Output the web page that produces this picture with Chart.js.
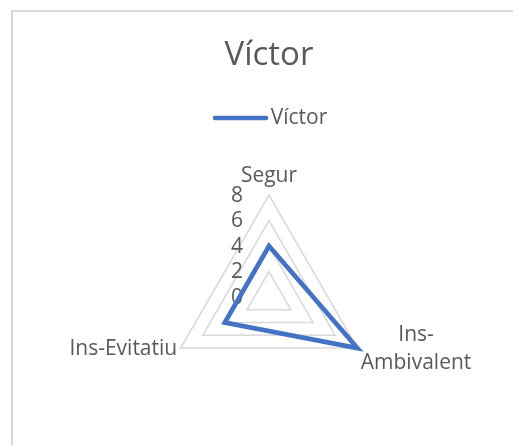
<!DOCTYPE html>
<html>
<head>
<meta charset="utf-8">
<script src="https://cdn.jsdelivr.net/npm/chart.js@4"></script>
<style>
  html, body { margin: 0; padding: 0; background: #fff; overflow: hidden; width: 513px; height: 445px; }
  #frame { position: fixed; left: 11px; top: 10px; width: 540px; height: 470px;
           box-shadow: inset 2px 2px 0 #d9d9d9; }
  #wrap { position: fixed; left: 12px; top: 11px; }
</style>
</head>
<body>
<div id="frame"></div>
<div id="wrap"><canvas id="radarChart" width="501" height="460"></canvas></div>
<script>
// chart data
const seriesName = 'Víctor';
const categories = ['Segur', ['Ins-', 'Ambivalent'], 'Ins-Evitatiu'];
const values = [4, 8, 4];
const tickValues = [0, 2, 4, 6, 8];

const textColor = '#595959';
const fontFamily = '"Open Sans", "Noto Sans", sans-serif';

// legend sample: a short rounded line sitting close to its text, like Excel's
function legendLine(color) {
    const c = document.createElement('canvas');
    c.width = 71;
    c.height = 8;
    const g = c.getContext('2d');
    g.strokeStyle = color;
    g.lineWidth = 4.5;
    g.lineCap = 'round';
    g.beginPath();
    g.moveTo(15, 4);
    g.lineTo(66, 4);
    g.stroke();
    return c;
}

// Excel-style labels: ticks left of the axis (0 included), category labels centred on the vertices
const axisText = {
    id: 'axisText',
    beforeDatasetsDraw(chart) {
        const scale = chart.scales.r;
        const ctx = chart.ctx;
        ctx.save();
        ctx.font = '21px ' + fontFamily;
        ctx.fillStyle = textColor;
        ctx.textBaseline = 'middle';
        ctx.textAlign = 'center';

        scale.ticks.forEach(function (tick) {
            const d = scale.getDistanceFromCenterForValue(tick.value);
            ctx.fillText(tick.label, scale.xCenter - 32, scale.yCenter - d + 1);
        });

        const lineH = 28.5;
        chart.data.labels.forEach(function (label, i) {
            const lines = [].concat(label);
            const angle = scale.getIndexAngle(i);
            const sin = Math.sin(angle);
            const top = Math.abs(sin) < 0.1;
            const p = scale.getPointPosition(i, scale.drawingArea + (top ? 5 : 4));
            const w = Math.max.apply(null, lines.map(function (l) { return ctx.measureText(l).width; }));
            let cx = p.x;
            if (sin > 0.1) cx = p.x + w / 2;
            else if (sin < -0.1) cx = p.x - w / 2;
            let cy = top ? p.y - lines.length * lineH / 2 : p.y - 1;
            lines.forEach(function (line, j) {
                ctx.fillText(line, cx, cy + (j - (lines.length - 1) / 2) * lineH);
            });
        });
        ctx.restore();
    }
};

const ctx = document.getElementById('radarChart').getContext('2d');

const chart = new Chart(ctx, {
    type: 'radar',
    data: {
        labels: categories,
        datasets: [{
            label: seriesName,
            data: values,
            borderColor: '#4472C4',
            backgroundColor: 'transparent',
            borderWidth: 4.75,
            fill: false,
            pointRadius: 0,
            pointHoverRadius: 0
        }]
    },
    plugins: [axisText],
    options: {
        responsive: false,
        animation: false,
        layout: {
            padding: { left: 155, right: 142, top: 0, bottom: 15.5 }
        },
        scales: {
            r: {
                min: tickValues[0],
                max: tickValues[tickValues.length - 1],
                ticks: { display: false, stepSize: tickValues[1] - tickValues[0] },
                pointLabels: { display: false },
                angleLines: { display: false },
                grid: { color: '#d9d9d9', lineWidth: 1.5 }
            }
        },
        plugins: {
            title: {
                display: true,
                text: seriesName,
                color: textColor,
                font: { family: fontFamily, size: 33, weight: 'normal' },
                padding: { top: 25.2, bottom: 21.7 }
            },
            legend: {
                labels: {
                    usePointStyle: true,
                    pointStyleWidth: 49.5,
                    padding: 10,
                    color: textColor,
                    font: { family: fontFamily, size: 21 },
                    generateLabels: function (chart) {
                        return chart.data.datasets.map(function (ds, i) {
                            return {
                                text: ds.label,
                                strokeStyle: ds.borderColor,
                                fillStyle: ds.borderColor,
                                lineWidth: 0,
                                pointStyle: legendLine(ds.borderColor),
                                fontColor: textColor,
                                hidden: false,
                                datasetIndex: i
                            };
                        });
                    }
                }
            },
            tooltip: { enabled: false }
        }
    }
});
</script>
</body>
</html>
